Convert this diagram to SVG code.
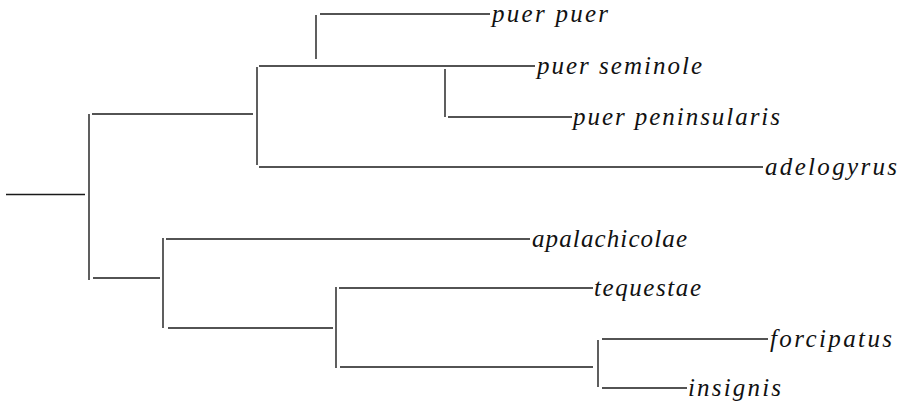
<svg xmlns="http://www.w3.org/2000/svg" width="899" height="401" viewBox="0 0 899 401">
  <style>
    .edge { stroke: #1a1a1a; stroke-width: 1.4; fill: none; stroke-linecap: butt; }
    .taxon { font-family: "Liberation Serif", "DejaVu Serif", serif; font-style: italic; font-size: 25px; fill: #111; }
  </style>
  <rect width="899" height="401" fill="#fff"/>

  <!-- tree branches -->
  <g id="connectors" class="edge">
    <!-- root -->
    <path d="M6 194.5H85"/>
    <path d="M89 114V280"/>
    <!-- upper clade -->
    <path d="M92 114H253"/>
    <path d="M257 67V165"/>
    <path d="M316 15V59"/>
    <path d="M320 14H490"/>
    <path d="M259 66H535"/>
    <path d="M445 69V117"/>
    <path d="M448 117H572"/>
    <path d="M259 167H763"/>
    <!-- lower clade -->
    <path d="M93 278H160"/>
    <path d="M163 238V328"/>
    <path d="M166 239H530"/>
    <path d="M168 328H333"/>
    <path d="M336 287V368"/>
    <path d="M339 288H593"/>
    <path d="M340 367H593"/>
    <path d="M598 340V387"/>
    <path d="M602 339H768"/>
    <path d="M602 388H687"/>
  </g>

  <!-- terminal taxa -->
  <g id="puer-puer"><text class="taxon" x="492" y="21.5" textLength="116" lengthAdjust="spacing">puer puer</text></g>
  <g id="puer-seminole"><text class="taxon" x="537" y="73.5" textLength="165" lengthAdjust="spacing">puer seminole</text></g>
  <g id="puer-peninsularis"><text class="taxon" x="573" y="124.5" textLength="207" lengthAdjust="spacing">puer peninsularis</text></g>
  <g id="adelogyrus"><text class="taxon" x="765" y="174.5" textLength="132" lengthAdjust="spacing">adelogyrus</text></g>
  <g id="apalachicolae"><text class="taxon" x="532" y="246.5" textLength="155" lengthAdjust="spacing">apalachicolae</text></g>
  <g id="tequestae"><text class="taxon" x="594" y="295.5" textLength="107" lengthAdjust="spacing">tequestae</text></g>
  <g id="forcipatus"><text class="taxon" x="770" y="346.5" textLength="122" lengthAdjust="spacing">forcipatus</text></g>
  <g id="insignis"><text class="taxon" x="688" y="395.5" textLength="93" lengthAdjust="spacing">insignis</text></g>
</svg>
